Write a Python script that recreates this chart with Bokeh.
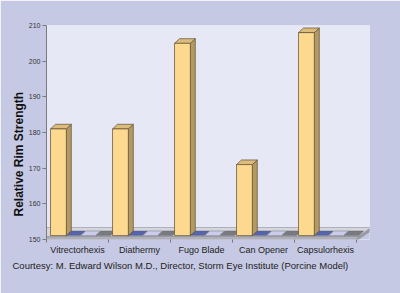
from bokeh.plotting import figure
from bokeh.models import FixedTicker, Range1d, Title
from bokeh.embed import file_html
from bokeh.resources import INLINE

# ---------------- data ----------------
categories = ["Vitrectorhexis", "Diathermy", "Fugo Blade", "Can Opener", "Capsulorhexis"]
rim_strength = [181, 181, 205, 171, 208]      # yellow series
series_blue = [0, 0, 0, 0, 0]                 # flat (below axis minimum)
series_lavender = [0, 0, 0, 0, 0]
series_gray = [0, 0, 0, 0, 0]
y_ticks = [150, 160, 170, 180, 190, 200, 210]
y_label = "Relative Rim Strength"
caption = "Courtesy: M. Edward Wilson M.D., Director, Storm Eye Institute (Porcine Model)"

# ---------------- styling / geometry ----------------
FONT = "Liberation Sans"
OUTER = "#c6c9e4"
WALL = "#e7e8f5"
Y_MIN, Y_MAX = 150, 210
n = len(categories)

FLOOR_FRONT_TOP = 150.84
FLOOR_BACK = 153.36
FLOOR_DX = 0.21
BAR_BASE = 151.1
BAR_DX = 0.08
BAR_DY = 1.3

p = figure(width=400, height=293,
           x_range=Range1d(-0.5, n - 0.5 + 0.21),
           y_range=Range1d(Y_MIN, Y_MAX),
           output_backend="svg", toolbar_location=None,
           min_border_left=46, min_border_right=31,
           min_border_top=25, min_border_bottom=54)
p.background_fill_color = WALL
p.border_fill_color = OUTER
p.outline_line_color = None
p.grid.visible = False

left = -0.5
right = n - 0.5 + 0.03

# area below the floor on the right side (outside the wall)
p.patch([right, right + FLOOR_DX, right + FLOOR_DX], [Y_MIN, FLOOR_BACK, Y_MIN],
        fill_color=OUTER, line_color=None)

# floor slab
p.patch([left, right, right + FLOOR_DX, left],
        [FLOOR_FRONT_TOP, FLOOR_FRONT_TOP, FLOOR_BACK, FLOOR_BACK],
        fill_color="#d6d7de", line_color="#8e8f98", line_width=0.6)
p.patch([left, right, right, left],
        [Y_MIN, Y_MIN, FLOOR_FRONT_TOP, FLOOR_FRONT_TOP],
        fill_color="#aeafb8", line_color="#8e8f98", line_width=0.6)
p.patch([right, right + FLOOR_DX, right + FLOOR_DX, right],
        [Y_MIN, FLOOR_BACK - (FLOOR_FRONT_TOP - Y_MIN), FLOOR_BACK, FLOOR_FRONT_TOP],
        fill_color="#9a9ba4", line_color="#8e8f98", line_width=0.6)

# flat tiles for series whose values are at/below the axis minimum
tile_series = [(series_blue, "#5565ab"), (series_lavender, "#cbcbec"), (series_gray, "#7a7a7e")]
for k, (vals, col) in enumerate(tile_series, start=1):
    xs, ys = [], []
    for i, v in enumerate(vals):
        top = max(v, BAR_BASE)
        x0 = i - 0.5 + 0.065 + k * 0.245
        x1 = x0 + 0.235
        xs.append([x0, x1, x1 + BAR_DX, x0 + BAR_DX])
        ys.append([top, top, top + BAR_DY, top + BAR_DY])
    p.patches(xs, ys, fill_color=col, line_color="#555566", line_width=0.4)

# yellow 3-D bars
fx, fy, tx, ty, sx, sy = [], [], [], [], [], []
for i, v in enumerate(rim_strength):
    x0 = i - 0.5 + 0.065
    x1 = x0 + 0.255
    fx.append([x0, x1, x1, x0]); fy.append([BAR_BASE, BAR_BASE, v, v])
    tx.append([x0, x1, x1 + BAR_DX, x0 + BAR_DX]); ty.append([v, v, v + BAR_DY, v + BAR_DY])
    sx.append([x1, x1 + BAR_DX, x1 + BAR_DX, x1]); sy.append([BAR_BASE, BAR_BASE + BAR_DY, v + BAR_DY, v])
p.patches(sx, sy, fill_color="#b39a62", line_color="#5e4e30", line_width=0.7)
p.patches(tx, ty, fill_color="#dcbc7c", line_color="#5e4e30", line_width=0.7)
p.patches(fx, fy, fill_color="#fdd88f", line_color="#5e4e30", line_width=0.7)

# axes
p.xaxis.ticker = FixedTicker(ticks=list(range(n)),
                             minor_ticks=[i - 0.5 for i in range(n + 1)])
p.xaxis.major_label_overrides = {i: c for i, c in enumerate(categories)}
p.xaxis.axis_line_color = None
p.xaxis.major_tick_line_color = None
p.xaxis.major_tick_out = 0
p.xaxis.minor_tick_line_color = "#777777"
p.xaxis.minor_tick_in = 0
p.xaxis.minor_tick_out = 3
p.xaxis.major_label_standoff = 2
p.xaxis.major_label_text_font = FONT
p.xaxis.major_label_text_font_size = "9px"
p.xaxis.major_label_text_color = "#222222"

p.yaxis.ticker = FixedTicker(ticks=y_ticks)
p.yaxis.axis_line_color = "#7a7a80"
p.yaxis.major_tick_line_color = "#7a7a80"
p.yaxis.major_tick_in = 0
p.yaxis.major_tick_out = 4
p.yaxis.minor_tick_line_color = None
p.yaxis.major_label_standoff = 2
p.yaxis.major_label_text_font = FONT
p.yaxis.major_label_text_font_size = "7px"
p.yaxis.major_label_text_color = "#333333"

p.add_layout(Title(text=y_label, align="left", offset=23, text_font=FONT,
                   text_font_size="12px", text_font_style="bold",
                   text_color="#111111", standoff=0), "left")
p.add_layout(Title(text=caption, align="left", offset=-34, text_font=FONT,
                   text_font_size="9.5px", text_font_style="normal",
                   text_color="#222222", vertical_align="top", standoff=4), "below")

open("out.html", "w").write(file_html(p, INLINE))
